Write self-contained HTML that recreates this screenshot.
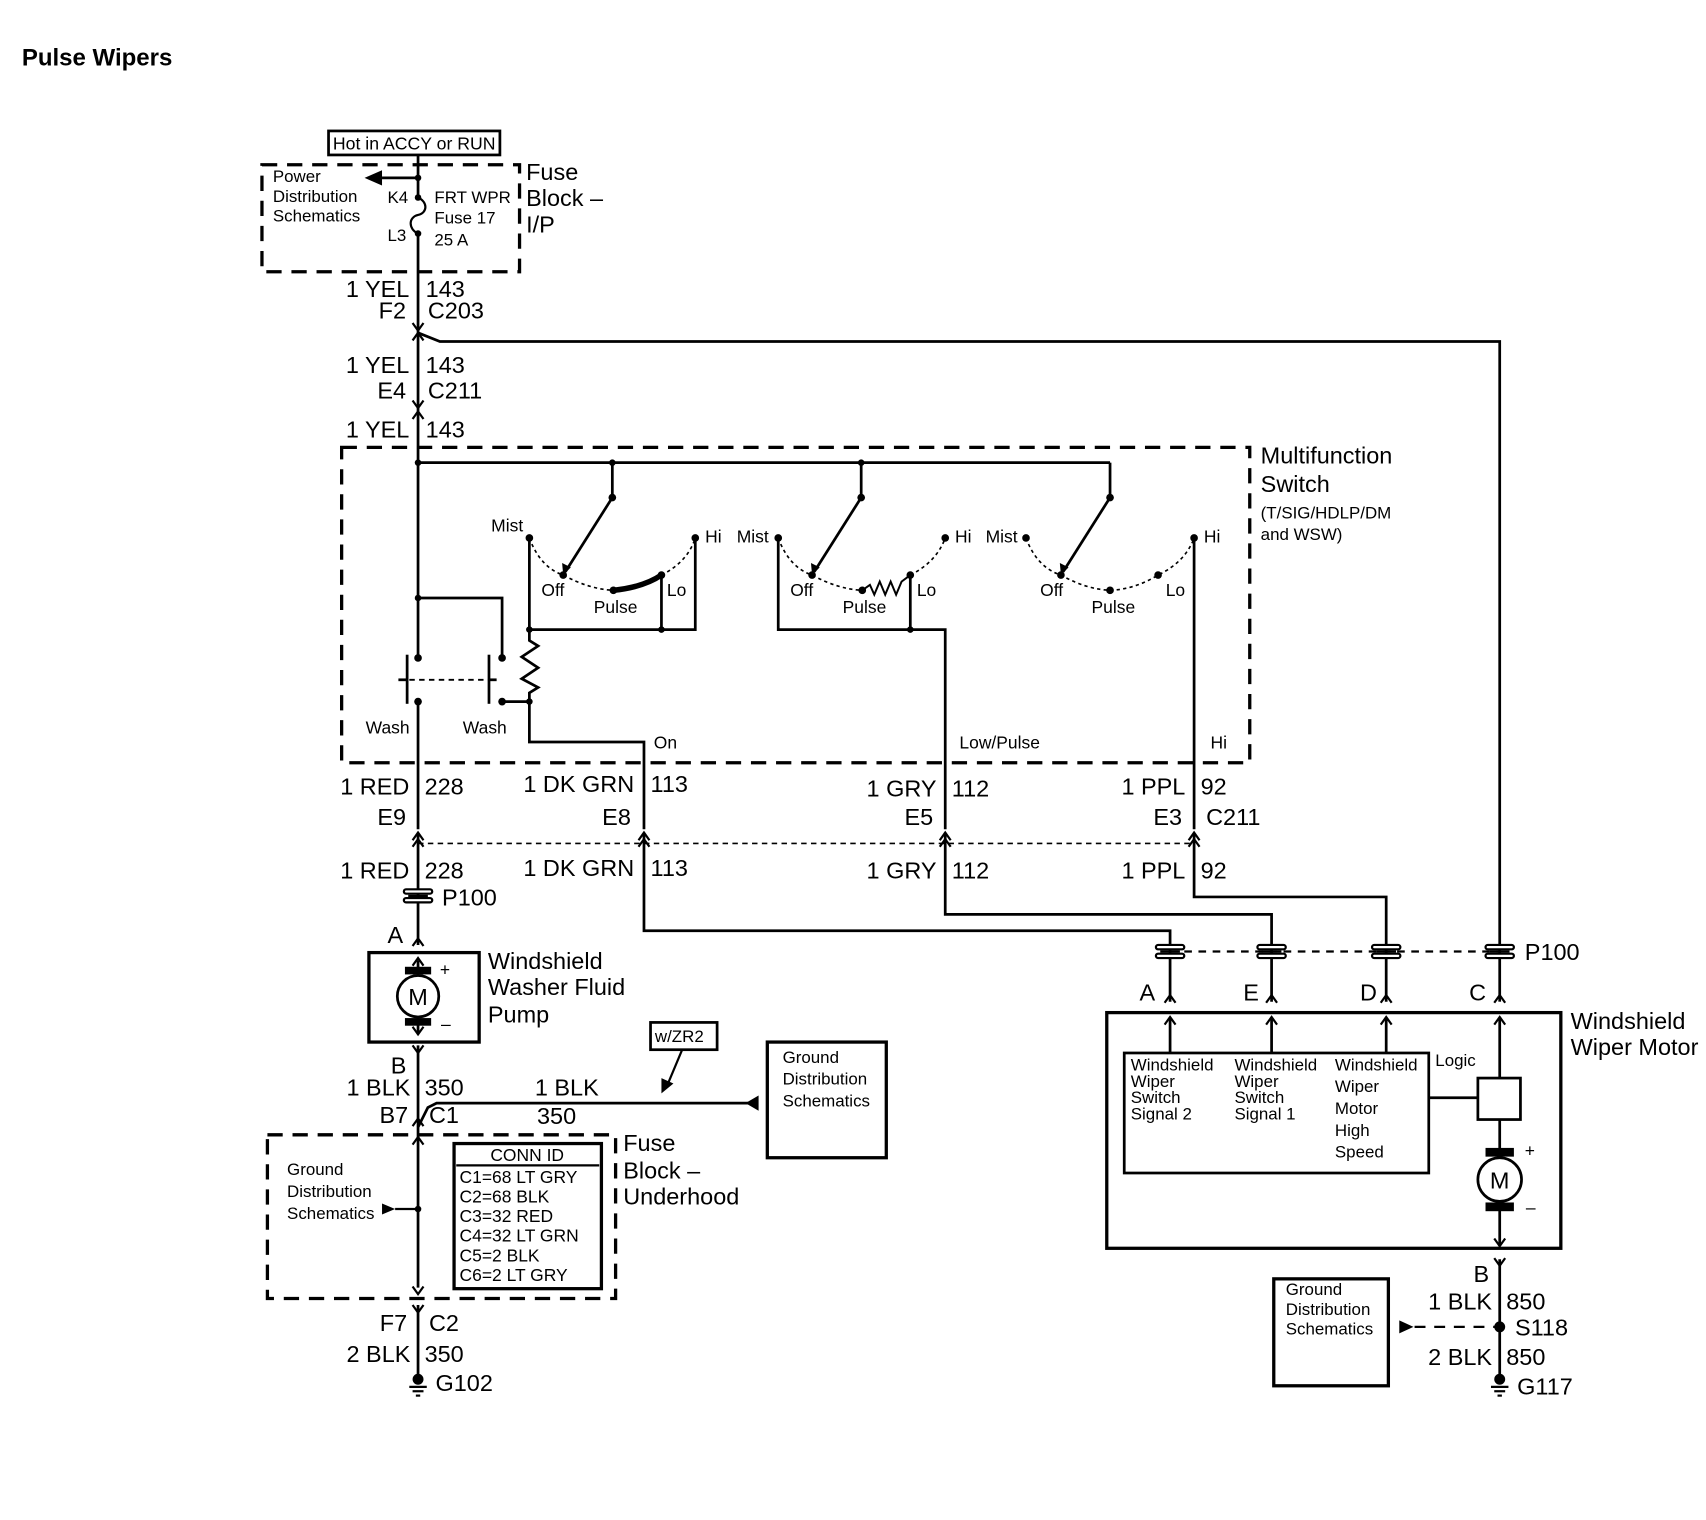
<!DOCTYPE html>
<html><head><meta charset="utf-8"><style>
html,body{margin:0;padding:0;background:#fff}
svg{display:block}
text{font-family:"Liberation Sans",Arial,sans-serif;fill:#000}
.b{font-size:21.5px}
.s{font-size:15.5px}
.m{font-size:16px}
</style></head><body>
<svg width="1706" height="1520" viewBox="0 0 1563 1393" preserveAspectRatio="none" xmlns="http://www.w3.org/2000/svg">
<defs>
<g id="up"><path d="M-5,7 L0,0 L5,7" fill="none" stroke="#000" stroke-width="2"/></g>
<g id="dn"><path d="M-5,-7 L0,0 L5,-7" fill="none" stroke="#000" stroke-width="2"/></g>
<g id="p100"><rect x="-13" y="-6" width="26" height="4" rx="2" fill="#fff" stroke="#000" stroke-width="2"/><rect x="-13" y="2" width="26" height="4" rx="2" fill="#fff" stroke="#000" stroke-width="2"/><line x1="-9" y1="0" x2="9" y2="0" stroke="#000" stroke-width="2"/></g>
<g id="gnd"><circle cx="0" cy="-4" r="5" fill="#000"/><line x1="-8" y1="3" x2="8" y2="3" stroke="#000" stroke-width="2"/><line x1="-5" y1="7" x2="5" y2="7" stroke="#000" stroke-width="2"/><line x1="-2" y1="11" x2="2" y2="11" stroke="#000" stroke-width="2"/></g>
</defs>
<text x="20" y="60" style="font-size:22px;font-weight:bold">Pulse Wipers</text>

<rect x="301" y="120" width="157" height="22" fill="none" stroke="#000" stroke-width="2.5"/>
<text x="305" y="137" class="m" textLength="149" lengthAdjust="spacingAndGlyphs">Hot in ACCY or RUN</text>
<rect x="240" y="151" width="236" height="98" fill="none" stroke="#000" stroke-width="3" stroke-dasharray="14,9"/>
<text x="250" y="167" class="s">Power</text><text x="250" y="185" class="s">Distribution</text><text x="250" y="203" class="s">Schematics</text>
<line x1="383" y1="142" x2="383" y2="181" stroke="#000" stroke-width="2.5"/>
<line x1="350" y1="163" x2="383" y2="163" stroke="#000" stroke-width="2.5"/>
<path d="M334,163 L350,156 L350,170 Z"/>
<circle cx="383" cy="163" r="3"/><circle cx="383" cy="181" r="3"/><circle cx="383" cy="214" r="3"/>
<path d="M383,181 C392,185 392,195 383,197 C374,199 374,210 383,214" fill="none" stroke="#000" stroke-width="2"/>
<text x="355" y="186" class="s">K4</text><text x="355" y="221" class="s">L3</text>
<text x="398" y="186" class="s">FRT WPR</text><text x="398" y="205" class="s">Fuse 17</text><text x="398" y="225" class="s">25 A</text>
<text x="482" y="165" class="b">Fuse</text><text x="482" y="189" class="b">Block –</text><text x="482" y="213" class="b">I/P</text>

<line x1="383" y1="214" x2="383" y2="600" stroke="#000" stroke-width="2.5"/>
<text x="375" y="272" class="b" text-anchor="end">1 YEL</text><text x="390" y="272" class="b">143</text>
<text x="372" y="292" class="b" text-anchor="end">F2</text><text x="392" y="292" class="b">C203</text>
<use href="#dn" x="383" y="303"/><use href="#up" x="383" y="305"/>
<path d="M383,305 L403,313 L1374,313 L1374,866" fill="none" stroke="#000" stroke-width="2.5"/>
<text x="375" y="342" class="b" text-anchor="end">1 YEL</text><text x="390" y="342" class="b">143</text>
<text x="372" y="365" class="b" text-anchor="end">E4</text><text x="392" y="365" class="b">C211</text>
<use href="#dn" x="383" y="374"/><use href="#up" x="383" y="377"/>
<text x="375" y="401" class="b" text-anchor="end">1 YEL</text><text x="390" y="401" class="b">143</text>

<rect x="313" y="410" width="832" height="289" fill="none" stroke="#000" stroke-width="3" stroke-dasharray="14,9"/>
<text x="1155" y="425" class="b">Multifunction</text><text x="1155" y="451" class="b">Switch</text>
<text x="1155" y="475" class="s">(T/SIG/HDLP/DM</text><text x="1155" y="495" class="s">and WSW)</text>
<g stroke="#000" stroke-width="2.5" fill="none">
<path d="M383,424 L1017,424"/>
<path d="M561,424 L561,456"/><path d="M789,424 L789,456"/><path d="M1017,424 L1017,456"/>
<path d="M561,456 L518,524"/><path d="M789,456 L746,524"/><path d="M1017,456 L974,524"/>
<path d="M485,493 L485,577 L637,577 L637,493"/><path d="M606,527 L606,577"/>
<path d="M562,541 Q590,538 606,527" stroke-width="5"/>
<path d="M713,493 L713,577 L866,577 L866,760"/><path d="M834,527 L834,577"/>
<path d="M790,541 L797,536 L801,545 L806,533 L811,545 L816,533 L821,545 L826,533 L834,527" stroke-width="1.8"/>
<path d="M1094,493 L1094,760"/>
<path d="M383,548 L460,548 L460,603"/>
<path d="M373,600 L373,645"/><path d="M448,600 L448,645"/>
<path d="M365,623 L373,623"/><path d="M448,623 L455,623"/>
<path d="M375,623 L448,623" stroke-width="1.8" stroke-dasharray="5,4"/>
<path d="M460,643 L485,643"/>
<path d="M485,577 L485,587 L493,592 L478,602 L493,612 L478,622 L493,630 L485,635 L485,680 L590,680 L590,760"/>
<path d="M383,643 L383,760"/>
</g>
<g stroke="#000" stroke-width="1.5" fill="none" stroke-dasharray="3,3">
<path d="M485,493 Q495,520 516,527 Q540,540 562,541"/><path d="M606,527 Q630,515 637,493"/>
<path d="M713,493 Q723,520 744,527 Q768,540 790,541"/><path d="M834,527 Q858,515 866,493"/>
<path d="M940,493 Q950,520 972,527 Q995,540 1017,541 Q1040,540 1061,527 Q1086,515 1094,493"/>
</g>
<g>
<circle cx="383" cy="424" r="3"/><circle cx="561" cy="424" r="3"/><circle cx="789" cy="424" r="3"/>
<circle cx="561" cy="456" r="3.5"/><circle cx="789" cy="456" r="3.5"/><circle cx="1017" cy="456" r="3.5"/>
<circle cx="485" cy="493" r="3.5"/><circle cx="516" cy="527" r="3.5"/><circle cx="562" cy="541" r="3.5"/><circle cx="606" cy="527" r="3.5"/><circle cx="637" cy="493" r="3.5"/>
<circle cx="713" cy="493" r="3.5"/><circle cx="744" cy="527" r="3.5"/><circle cx="790" cy="541" r="3.5"/><circle cx="834" cy="527" r="3.5"/><circle cx="866" cy="493" r="3.5"/>
<circle cx="940" cy="493" r="3.5"/><circle cx="972" cy="527" r="3.5"/><circle cx="1017" cy="541" r="3.5"/><circle cx="1061" cy="527" r="3.5"/><circle cx="1094" cy="493" r="3.5"/>
<circle cx="485" cy="577" r="3"/><circle cx="606" cy="577" r="3"/><circle cx="834" cy="577" r="3"/>
<circle cx="383" cy="548" r="3"/><circle cx="383" cy="603" r="3.5"/><circle cx="383" cy="643" r="3.5"/><circle cx="460" cy="603" r="3.5"/><circle cx="460" cy="643" r="3.5"/><circle cx="485" cy="643" r="3"/>
<path d="M516,527 L515,516 L523,520 Z"/><path d="M744,527 L743,516 L751,520 Z"/><path d="M972,527 L971,516 L979,520 Z"/>
</g>
<text x="450" y="487" class="m">Mist</text><text x="646" y="497" class="m">Hi</text><text x="496" y="546" class="m">Off</text><text x="544" y="562" class="m">Pulse</text><text x="611" y="546" class="m">Lo</text>
<text x="675" y="497" class="m">Mist</text><text x="875" y="497" class="m">Hi</text><text x="724" y="546" class="m">Off</text><text x="772" y="562" class="m">Pulse</text><text x="840" y="546" class="m">Lo</text>
<text x="903" y="497" class="m">Mist</text><text x="1103" y="497" class="m">Hi</text><text x="953" y="546" class="m">Off</text><text x="1000" y="562" class="m">Pulse</text><text x="1068" y="546" class="m">Lo</text>
<text x="335" y="672" class="m">Wash</text><text x="424" y="672" class="m">Wash</text>
<text x="599" y="686" class="m">On</text><text x="879" y="686" class="m">Low/Pulse</text><text x="1109" y="686" class="m">Hi</text>

<text x="375" y="728" class="b" text-anchor="end">1 RED</text><text x="389" y="728" class="b">228</text>
<text x="581" y="726" class="b" text-anchor="end">1 DK GRN</text><text x="596" y="726" class="b">113</text>
<text x="858" y="730" class="b" text-anchor="end">1 GRY</text><text x="872" y="730" class="b">112</text>
<text x="1086" y="728" class="b" text-anchor="end">1 PPL</text><text x="1100" y="728" class="b">92</text>
<text x="372" y="756" class="b" text-anchor="end">E9</text><text x="578" y="756" class="b" text-anchor="end">E8</text>
<text x="855" y="756" class="b" text-anchor="end">E5</text><text x="1083" y="756" class="b" text-anchor="end">E3</text><text x="1105" y="756" class="b">C211</text>
<line x1="383" y1="773" x2="1094" y2="773" stroke="#000" stroke-width="1.5" stroke-dasharray="5,4"/>
<g>
<use href="#up" x="383" y="763"/><use href="#up" x="383" y="769"/>
<use href="#up" x="590" y="763"/><use href="#up" x="590" y="769"/>
<use href="#up" x="866" y="763"/><use href="#up" x="866" y="769"/>
<use href="#up" x="1094" y="763"/><use href="#up" x="1094" y="769"/>
</g>
<g stroke="#000" stroke-width="2.5" fill="none">
<path d="M383,763 L383,866"/>
<path d="M590,763 L590,853 L1072,853 L1072,918"/>
<path d="M866,763 L866,838 L1165,838 L1165,918"/>
<path d="M1094,763 L1094,822 L1270,822 L1270,918"/>
<path d="M1374,866 L1374,918"/>
</g>
<text x="375" y="805" class="b" text-anchor="end">1 RED</text><text x="389" y="805" class="b">228</text>
<text x="581" y="803" class="b" text-anchor="end">1 DK GRN</text><text x="596" y="803" class="b">113</text>
<text x="858" y="805" class="b" text-anchor="end">1 GRY</text><text x="872" y="805" class="b">112</text>
<text x="1086" y="805" class="b" text-anchor="end">1 PPL</text><text x="1100" y="805" class="b">92</text>
<use href="#p100" x="383" y="821"/><text x="405" y="830" class="b">P100</text>
<line x1="1072" y1="872" x2="1374" y2="872" stroke="#000" stroke-width="2" stroke-dasharray="7,6"/>
<use href="#p100" x="1072" y="872"/><use href="#p100" x="1165" y="872"/><use href="#p100" x="1270" y="872"/><use href="#p100" x="1374" y="872"/>
<text x="1397" y="880" class="b">P100</text>

<text x="355" y="864" class="b">A</text><use href="#up" x="383" y="860"/>
<rect x="338" y="873" width="101" height="82" fill="none" stroke="#000" stroke-width="3"/>
<line x1="383" y1="880" x2="383" y2="948" stroke="#000" stroke-width="2.5"/>
<use href="#up" x="383" y="878"/><use href="#dn" x="383" y="948"/>
<rect x="371" y="886" width="24" height="7"/><rect x="371" y="933" width="24" height="7"/>
<circle cx="383" cy="913" r="19" fill="#fff" stroke="#000" stroke-width="2.5"/>
<text x="383" y="921" class="b" text-anchor="middle">M</text>
<text x="403" y="894" class="m">+</text><text x="404" y="944" class="m">–</text>
<text x="447" y="888" class="b">Windshield</text><text x="447" y="912" class="b">Washer Fluid</text><text x="447" y="937" class="b">Pump</text>
<use href="#dn" x="383" y="965"/>
<line x1="383" y1="958" x2="383" y2="1180" stroke="#000" stroke-width="2.5"/>
<text x="358" y="984" class="b">B</text>
<text x="376" y="1004" class="b" text-anchor="end">1 BLK</text><text x="389" y="1004" class="b">350</text>
<text x="374" y="1029" class="b" text-anchor="end">B7</text><text x="393" y="1029" class="b">C1</text>
<path d="M383,1025 L378,1032 M383,1025 L388,1032" stroke="#000" stroke-width="2" fill="none"/>
<path d="M383,1033 L392,1015 L400,1011 L686,1011" stroke="#000" stroke-width="2.5" fill="none"/>
<path d="M683,1011 L695,1004 L695,1018 Z"/>
<text x="490" y="1004" class="b">1 BLK</text><text x="492" y="1030" class="b">350</text>
<rect x="596" y="937" width="61" height="25" fill="none" stroke="#000" stroke-width="2.5"/>
<text x="600" y="955" class="s">w/ZR2</text>
<line x1="625" y1="962" x2="612" y2="993" stroke="#000" stroke-width="2"/>
<path d="M606,1002 L606,988 L617,993 Z"/>
<rect x="703" y="955" width="109" height="106" fill="none" stroke="#000" stroke-width="3"/>
<text x="717" y="974" class="s">Ground</text><text x="717" y="994" class="s">Distribution</text><text x="717" y="1014" class="s">Schematics</text>

<rect x="245" y="1040" width="319" height="150" fill="none" stroke="#000" stroke-width="3" stroke-dasharray="14,9"/>
<use href="#up" x="383" y="1042"/><use href="#dn" x="383" y="1186"/>
<text x="571" y="1055" class="b">Fuse</text><text x="571" y="1080" class="b">Block –</text><text x="571" y="1104" class="b">Underhood</text>
<text x="263" y="1077" class="s">Ground</text><text x="263" y="1097" class="s">Distribution</text><text x="263" y="1117" class="s">Schematics</text>
<path d="M350,1103 L362,1108 L350,1113 Z"/><line x1="362" y1="1108" x2="383" y2="1108" stroke="#000" stroke-width="2"/><circle cx="383" cy="1108" r="3"/>
<rect x="416" y="1048" width="135" height="133" fill="#fff" stroke="#000" stroke-width="3"/>
<line x1="418" y1="1068" x2="549" y2="1068" stroke="#000" stroke-width="2"/>
<text x="483" y="1064" class="m" text-anchor="middle">CONN ID</text>
<text x="421" y="1084" class="m">C1=68 LT GRY</text><text x="421" y="1102" class="m">C2=68 BLK</text><text x="421" y="1120" class="m">C3=32 RED</text>
<text x="421" y="1138" class="m">C4=32 LT GRN</text><text x="421" y="1156" class="m">C5=2 BLK</text><text x="421" y="1174" class="m">C6=2 LT GRY</text>
<use href="#dn" x="383" y="1203"/>
<line x1="383" y1="1196" x2="383" y2="1262" stroke="#000" stroke-width="2.5"/>
<text x="373" y="1220" class="b" text-anchor="end">F7</text><text x="393" y="1220" class="b">C2</text>
<text x="376" y="1248" class="b" text-anchor="end">2 BLK</text><text x="389" y="1248" class="b">350</text>
<use href="#gnd" x="383" y="1268"/><text x="399" y="1275" class="b">G102</text>

<text x="1044" y="917" class="b">A</text><text x="1139" y="917" class="b">E</text><text x="1246" y="917" class="b">D</text><text x="1346" y="917" class="b">C</text>
<use href="#up" x="1072" y="912"/><use href="#up" x="1165" y="912"/><use href="#up" x="1270" y="912"/><use href="#up" x="1374" y="912"/>
<rect x="1014" y="928" width="416" height="216" fill="none" stroke="#000" stroke-width="3"/>
<text x="1439" y="943" class="b">Windshield</text><text x="1439" y="967" class="b">Wiper Motor</text>
<g stroke="#000" stroke-width="2.5" fill="none">
<path d="M1072,933 L1072,965"/><path d="M1165,933 L1165,965"/><path d="M1270,933 L1270,965"/>
<path d="M1374,933 L1374,988"/><path d="M1374,1026 L1374,1142"/><path d="M1309,1006 L1354,1006"/>
</g>
<use href="#up" x="1072" y="932"/><use href="#up" x="1165" y="932"/><use href="#up" x="1270" y="932"/><use href="#up" x="1374" y="932"/>
<use href="#dn" x="1374" y="1142"/>
<rect x="1030" y="965" width="279" height="110" fill="none" stroke="#000" stroke-width="2.5"/>
<text x="1036" y="981" class="s">Windshield</text><text x="1036" y="996" class="s">Wiper</text><text x="1036" y="1011" class="s">Switch</text><text x="1036" y="1026" class="s">Signal 2</text>
<text x="1131" y="981" class="s">Windshield</text><text x="1131" y="996" class="s">Wiper</text><text x="1131" y="1011" class="s">Switch</text><text x="1131" y="1026" class="s">Signal 1</text>
<text x="1223" y="981" class="s">Windshield</text><text x="1223" y="1001" class="s">Wiper</text><text x="1223" y="1021" class="s">Motor</text><text x="1223" y="1041" class="s">High</text><text x="1223" y="1061" class="s">Speed</text>
<text x="1315" y="977" class="s">Logic</text>
<rect x="1354" y="988" width="39" height="38" fill="#fff" stroke="#000" stroke-width="2.5"/>
<rect x="1361" y="1052" width="26" height="8"/><rect x="1361" y="1102" width="26" height="8"/>
<circle cx="1374" cy="1081" r="20" fill="#fff" stroke="#000" stroke-width="2.5"/>
<text x="1374" y="1089" class="b" text-anchor="middle">M</text>
<text x="1397" y="1060" class="m">+</text><text x="1398" y="1112" class="m">–</text>
<use href="#dn" x="1374" y="1160"/>
<line x1="1374" y1="1154" x2="1374" y2="1262" stroke="#000" stroke-width="2.5"/>
<text x="1350" y="1175" class="b">B</text>
<text x="1367" y="1200" class="b" text-anchor="end">1 BLK</text><text x="1380" y="1200" class="b">850</text>
<circle cx="1374" cy="1216" r="5"/><text x="1388" y="1224" class="b">S118</text>
<text x="1367" y="1251" class="b" text-anchor="end">2 BLK</text><text x="1380" y="1251" class="b">850</text>
<use href="#gnd" x="1374" y="1268"/><text x="1390" y="1278" class="b">G117</text>
<rect x="1167" y="1172" width="105" height="98" fill="none" stroke="#000" stroke-width="3"/>
<text x="1178" y="1187" class="s">Ground</text><text x="1178" y="1205" class="s">Distribution</text><text x="1178" y="1223" class="s">Schematics</text>
<path d="M1282,1210 L1295,1216 L1282,1222 Z"/>
<line x1="1296" y1="1216" x2="1370" y2="1216" stroke="#000" stroke-width="2" stroke-dasharray="10,8"/>
</svg>
</body></html>
